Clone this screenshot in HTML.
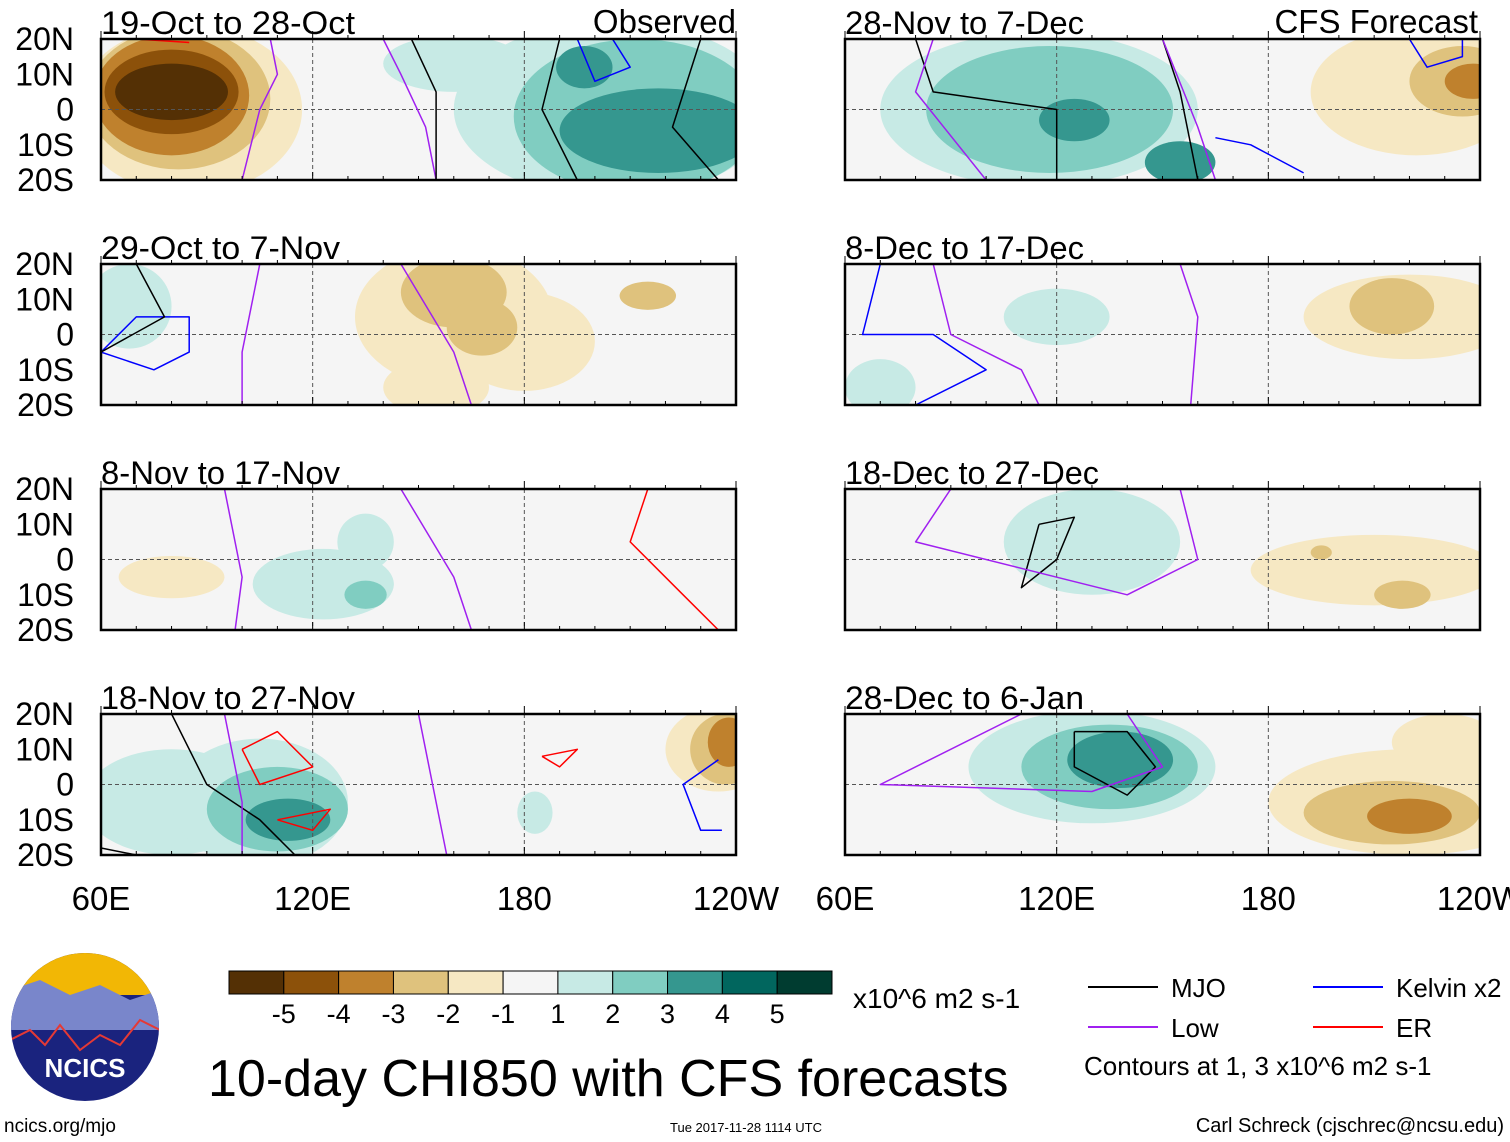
<!DOCTYPE html>
<html><head><meta charset="utf-8">
<style>
body{margin:0;background:#fff;font-family:"Liberation Sans",sans-serif;}
svg{display:block}
text{font-family:"Liberation Sans",sans-serif;}
</style></head>
<body>
<svg id="c" width="1510" height="1142" viewBox="0 0 1510 1142"></svg>
<script>
// ---- data ----
const panelTitles = ["19-Oct to 28-Oct","29-Oct to 7-Nov","8-Nov to 17-Nov","18-Nov to 27-Nov","28-Nov to 7-Dec","8-Dec to 17-Dec","18-Dec to 27-Dec","28-Dec to 6-Jan"];
const latTicks = ["20N","10N","0","10S","20S"];
const lonTicks = ["60E","120E","180","120W"];
const cbLabels = ["-5","-4","-3","-2","-1","1","2","3","4","5"];
const cbColors = ["#543005","#8c510a","#bf812d","#dfc27d","#f6e8c3","#f5f5f5","#c7eae5","#80cdc1","#35978f","#01665e","#003c30"];
// blobs: [lonCenter(deg E), latCenter, lonRadius, latRadius, level(-5..5)]
const blobs0 = [[85,0,32,24,-1],[82,3,26,20,-2],[80,4,22,17,-3],[80,5,19,12,-4],[80,5,16,8,-5],[160,13,20,8,1],[205,0,45,25,1],[212,-2,35,22,2],[218,-6,28,12,3],[197,12,8,6,3]];
const blobs1 = [[68,8,12,12,1],[160,5,28,20,-1],[180,-2,20,14,-1],[160,12,15,10,-2],[168,2,10,8,-2],[215,11,8,4,-2],[155,-15,15,8,-1]];
const blobs2 = [[80,-5,15,6,-1],[123,-7,20,10,1],[128,-7,15,8,1],[135,-10,6,4,2],[135,5,8,8,1]];
const blobs3 = [[80,-5,25,15,1],[105,-5,25,18,1],[110,-7,20,12,2],[113,-10,12,6,3],[235,10,15,12,-1],[237,10,10,10,-2],[238,12,6,7,-3],[183,-8,5,6,1]];
const blobs4 = [[115,0,45,22,1],[118,0,35,18,2],[125,-3,10,6,3],[155,-15,10,6,3],[222,5,30,18,-1],[235,8,15,10,-2],[238,8,8,5,-3]];
const blobs5 = [[120,5,15,8,1],[70,-15,10,8,1],[220,5,30,12,-1],[215,8,12,8,-2]];
const blobs6 = [[130,5,25,15,1],[210,-3,35,10,-1],[218,-10,8,4,-2],[195,2,3,2,-2]];
const blobs7 = [[130,5,35,16,1],[135,5,25,12,2],[138,7,15,8,3],[220,-5,40,15,-1],[215,-8,25,9,-2],[220,-9,12,5,-3],[230,12,15,8,-1]];
const blobsAll = [blobs0,blobs1,blobs2,blobs3,blobs4,blobs5,blobs6,blobs7];
// contours: [type, [lon,lat,...]]
const lines0 = [["low",[100,-20,105,0,110,10,108,20]],["low",[140,20,145,10,152,-5,155,-20]],["mjo",[148,20,155,5,155,-20]],["mjo",[190,20,185,0,195,-20]],["mjo",[230,20,222,-5,235,-20]],["kelvin",[195,20,200,8,210,12,205,20]],["er",[70,20,85,19]]];
const lines1 = [["kelvin",[60,-5,75,-10,85,-5,85,5,70,5,60,-5]],["mjo",[70,20,78,5,60,-5]],["low",[105,20,100,-5,100,-20]],["low",[145,20,160,-5,165,-20]]];
const lines2 = [["low",[95,20,100,-5,98,-20]],["low",[145,20,160,-5,165,-20]],["er",[215,20,210,5,225,-10,235,-20]]];
const lines3 = [["mjo",[80,20,90,0,105,-10,115,-20]],["mjo",[60,-18,70,-20]],["low",[95,20,100,-5,100,-20]],["low",[150,20,155,-5,158,-20]],["er",[100,10,110,15,120,5,105,0,100,10]],["er",[110,-10,125,-7,120,-13,110,-10]],["er",[185,8,195,10,190,5,185,8]],["kelvin",[235,7,225,0,230,-13,236,-13]]];
const lines4 = [["mjo",[80,20,85,5,120,0,120,-20]],["mjo",[150,20,155,5,160,-20]],["low",[85,20,80,5,100,-20]],["low",[150,20,160,-5,165,-20]],["kelvin",[165,-8,175,-10,190,-18]],["kelvin",[220,20,225,12,235,15,235,20]]];
const lines5 = [["kelvin",[70,20,65,0,85,0,100,-10,80,-20]],["low",[85,20,90,0,110,-10,115,-20]],["low",[155,20,160,5,158,-20]]];
const lines6 = [["mjo",[115,10,125,12,120,0,110,-8,115,10]],["low",[90,20,80,5,140,-10,160,0,155,20]]];
const lines7 = [["mjo",[125,15,140,15,148,5,140,-3,125,5,125,15]],["low",[110,20,70,0,130,-2,150,5,140,20]]];
const linesAll = [lines0,lines1,lines2,lines3,lines4,lines5,lines6,lines7];
const lineColors = {mjo:"#000",low:"#a020f0",kelvin:"#0000ff",er:"#ff0000"};

// ---- drawing ----
const NS="http://www.w3.org/2000/svg", svg=document.getElementById("c");
function mk(tag,attrs,parent){const e=document.createElementNS(NS,tag);for(const k in attrs)e.setAttribute(k,attrs[k]);(parent||svg).appendChild(e);return e;}
const panelW=635, panelH=141, left=[101,845], tops=[39,264,489,714];
function xs(p,lon){return p.x+(lon-60)/180*panelW;}
function ys(p,lat){return p.y+(20-lat)/40*panelH;}
function color(l){return cbColors[l+5];}

for(let i=0;i<8;i++){
  const p={x:left[Math.floor(i/4)],y:tops[i%4]};
  const g=mk("g",{});
  
  
  const cid="clip"+i;
  const cp=mk("clipPath",{id:cid},g); mk("rect",{x:p.x,y:p.y,width:panelW,height:panelH},cp);
  mk("rect",{x:p.x,y:p.y,width:panelW,height:panelH,fill:"#f5f5f5"},g);
  const inner=mk("g",{"clip-path":"url(#"+cid+")"},g);
  blobsAll[i].forEach(b=>{
    const e=mk("ellipse",{cx:xs(p,b[0]),cy:ys(p,b[1]),rx:b[2]/180*panelW,ry:b[3]/40*panelH,fill:color(b[4])},inner);
    
    
  });
  mk("line",{x1:p.x,x2:p.x+panelW,y1:ys(p,0),y2:ys(p,0),stroke:"#555","stroke-dasharray":"4,3","stroke-width":1},inner);
  [120,180].forEach(l=>mk("line",{x1:xs(p,l),x2:xs(p,l),y1:p.y,y2:p.y+panelH,stroke:"#555","stroke-dasharray":"4,3","stroke-width":1},inner));
  linesAll[i].forEach(ln=>{
    const pts=[];for(let k=0;k<ln[1].length;k+=2)pts.push(xs(p,ln[1][k]).toFixed(1)+","+ys(p,ln[1][k+1]).toFixed(1));
    const pl=mk("polyline",{points:pts.join(" "),fill:"none",stroke:lineColors[ln[0]],"stroke-width":1.5,"stroke-linejoin":"round"},inner);
    
    
  });
  mk("rect",{x:p.x,y:p.y,width:panelW,height:panelH,fill:"none",stroke:"#000","stroke-width":2.5},g);
  for(let l=60;l<=240;l+=10){const h=(l%60==0)?8:4;
    mk("line",{x1:xs(p,l),x2:xs(p,l),y1:p.y,y2:p.y-h,stroke:"#000"},g);
    mk("line",{x1:xs(p,l),x2:xs(p,l),y1:p.y+panelH,y2:p.y+panelH-h,stroke:"#000"},g);}
  const t=mk("text",{x:p.x,y:p.y-5,"font-size":32.5,textLength:(panelTitles[i].length*15.9).toFixed(0),lengthAdjust:"spacingAndGlyphs"},g);t.textContent=panelTitles[i];
  
  
  if(Math.floor(i/4)==0){
    latTicks.forEach((s,k)=>{const tt=mk("text",{x:74,y:p.y+k*panelH/4+11,"font-size":32,"text-anchor":"end"},g);tt.textContent=s;
      
      });
  }
}
const o=mk("text",{x:736,y:33,"font-size":33,"text-anchor":"end"});o.textContent="Observed";


const f=mk("text",{x:1478,y:33,"font-size":33,"text-anchor":"end"});f.textContent="CFS Forecast";


[0,1].forEach(c=>{lonTicks.forEach((s,k)=>{const tt=mk("text",{x:left[c]+k*panelW/3,y:910,"font-size":33,"text-anchor":"middle"});tt.textContent=s;
  
  });});

const cbx=229,cbw=603/11;
cbColors.forEach((c,k)=>{const r=mk("rect",{x:cbx+k*cbw,y:971,width:cbw,height:23,fill:c,stroke:"#000","stroke-width":1});
  
  });
cbLabels.forEach((s,k)=>{const tt=mk("text",{x:cbx+(k+1)*cbw,y:1023,"font-size":27,"text-anchor":"middle"});tt.textContent=s;
  
  });
function txt(x,y,s,size,anchor,name){const t=mk("text",{x:x,y:y,"font-size":size,"text-anchor":anchor||"start"});t.textContent=s;
  
  return t;}
txt(853,1008,"x10^6 m2 s-1",28,"start","colorbar-units");
txt(208,1096,"10-day CHI850 with CFS forecasts",52,"start","chart-title");
txt(4,1132,"ncics.org/mjo",19,"start","site-url");
txt(670,1132,"Tue 2017-11-28 1114 UTC",13,"start","timestamp");
txt(1504,1132,"Carl Schreck (cjschrec@ncsu.edu)",20,"end","author");
[["mjo","MJO",1088,987],["low","Low",1088,1027],["kelvin","Kelvin x2",1313,987],["er","ER",1313,1027]].forEach(e=>{
  const l=mk("line",{x1:e[2],x2:e[2]+70,y1:e[3],y2:e[3],stroke:lineColors[e[0]],"stroke-width":2});
  
  
  txt(e[2]+83,e[3]+10,e[1],26,"start","legend-"+e[0]+"-label");
});
txt(1084,1075,"Contours at 1, 3 x10^6 m2 s-1",26,"start","contour-note");
const lg=mk("g",{});


mk("clipPath",{id:"lc"},lg).appendChild(mk("circle",{cx:85,cy:1027,r:74},lg));
mk("circle",{cx:85,cy:1027,r:74,fill:"#1a237e"},lg);
const lgi=mk("g",{"clip-path":"url(#lc)"},lg);
mk("rect",{x:10,y:950,width:150,height:45,fill:"#f2b705"},lgi);
mk("path",{d:"M10,990 L40,980 L70,995 L100,985 L130,1000 L160,990 L160,1030 L10,1030Z",fill:"#7986cb"},lgi);
mk("polyline",{points:"10,1040 30,1030 45,1045 60,1025 80,1050 100,1035 120,1045 140,1020 160,1030",fill:"none",stroke:"#e53935","stroke-width":2},lgi);
const lt=mk("text",{x:85,y:1077,"font-size":26,"font-weight":"bold",fill:"#fff","text-anchor":"middle"},lg);lt.textContent="NCICS";
</script>
</body></html>
